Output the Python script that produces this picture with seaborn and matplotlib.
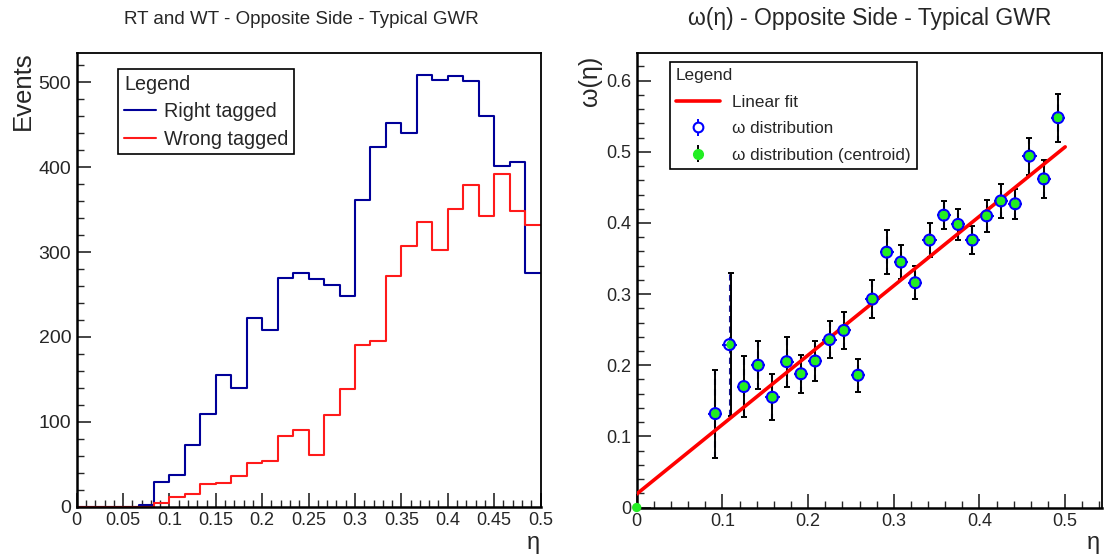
import numpy as np
import matplotlib
matplotlib.use("Agg")
import matplotlib.pyplot as plt
from matplotlib.ticker import MultipleLocator
import seaborn as sns

# ---------------- data ----------------
n_bins = 30
eta_edges = [k / 60 for k in range(n_bins + 1)]
eta_centers = [(k + 0.5) / 60 for k in range(n_bins)]

right_tagged = [0, 0, 0, 0, 1.5, 29, 37, 73, 109, 155, 140, 222, 208, 270, 275,
                268, 261, 248, 361, 424, 452, 440, 509, 503, 507, 502, 460, 401, 406, 275]
wrong_tagged = [0, 0, 0, 0, 0, 4, 11, 14.5, 27, 28, 36, 51, 54, 83, 90.7,
                61, 108, 138.5, 190, 195, 271.6, 307, 336, 303, 351, 379, 343, 392, 349, 332]

omega_eta = [0.0917, 0.1083, 0.1250, 0.1417, 0.1583, 0.1750, 0.1917, 0.2083, 0.2250,
             0.2417, 0.2583, 0.2750, 0.2917, 0.3083, 0.3250, 0.3417, 0.3583, 0.3750,
             0.3917, 0.4083, 0.4250, 0.4417, 0.4583, 0.4750, 0.4917]
omega_val = [0.132, 0.229, 0.170, 0.200, 0.155, 0.205, 0.188, 0.206, 0.236,
             0.249, 0.186, 0.293, 0.359, 0.345, 0.316, 0.376, 0.411, 0.398,
             0.376, 0.410, 0.431, 0.427, 0.494, 0.462, 0.548]
omega_err = [0.062, 0.100, 0.043, 0.034, 0.032, 0.035, 0.027, 0.028, 0.026,
             0.026, 0.023, 0.027, 0.031, 0.024, 0.023, 0.024, 0.020, 0.022,
             0.020, 0.022, 0.024, 0.021, 0.026, 0.027, 0.034]
eta_half_width = 1 / 120

centroid_eta = [0.0, 0.0917, 0.1100, 0.1250, 0.1417, 0.1583, 0.1750, 0.1917, 0.2083, 0.2250,
                0.2417, 0.2583, 0.2750, 0.2917, 0.3083, 0.3250, 0.3417, 0.3583, 0.3750,
                0.3917, 0.4083, 0.4250, 0.4417, 0.4583, 0.4750, 0.4917]
centroid_val = [0.0] + omega_val
centroid_err = [0.0] + omega_err

fit_eta = [0.0, 0.5]
fit_omega = [0.019, 0.507]

# ---------------- style ----------------
sns.set_style("ticks")
plt.rcParams["font.family"] = ["Liberation Sans", "DejaVu Sans"]
plt.rcParams["axes.linewidth"] = 1.3

W, H = 1107, 557
fig = plt.figure(figsize=(W / 100, H / 100), dpi=100)

def px_axes(x0, y0, x1, y1):
    return fig.add_axes([x0 / W, 1 - y1 / H, (x1 - x0) / W, (y1 - y0) / H])

ax1 = px_axes(76.7, 52.7, 540.5, 506.7)
ax2 = px_axes(636.7, 52.7, 1101.7, 507.5)

for ax in (ax1, ax2):
    ax.tick_params(which="major", direction="in", length=10, width=1.2,
                   labelsize=13, top=False, right=False, pad=4)
    ax.tick_params(which="minor", direction="in", length=5, width=1.0,
                   top=False, right=False)
    for s in ax.spines.values():
        s.set_color("black")
        s.set_linewidth(1.3)
    ax.spines["left"].set_linewidth(1.8)
    ax.spines["bottom"].set_linewidth(1.8)

# ---------------- left: histograms ----------------
blue_h = "#000099"
red_h = "#ff1a1a"
sns.histplot(x=eta_centers, weights=right_tagged, bins=eta_edges, element="step",
             fill=False, color=blue_h, linewidth=1.5, ax=ax1)
sns.histplot(x=eta_centers, weights=wrong_tagged, bins=eta_edges, element="step",
             fill=False, color=red_h, linewidth=1.5, ax=ax1)
ax1.set_xlim(0, 0.5)
ax1.set_ylim(0, 535)
ax1.set_xlabel("")
ax1.set_ylabel("")
ax1.xaxis.set_minor_locator(MultipleLocator(0.01))
ax1.yaxis.set_major_locator(MultipleLocator(100))
ax1.yaxis.set_minor_locator(MultipleLocator(20))
ax1.set_xticks([round(0.05 * i, 2) for i in range(11)])
ax1.set_xticklabels(["0", "0.05", "0.1", "0.15", "0.2", "0.25", "0.3", "0.35",
                     "0.4", "0.45", "0.5"])
ax1.tick_params(axis="y", labelsize=14)

h_rt = plt.Line2D([], [], color=blue_h, lw=1.5)
h_wt = plt.Line2D([], [], color=red_h, lw=1.5)
leg1 = ax1.legend([h_rt, h_wt], ["Right tagged", "Wrong tagged"], title="Legend",
                  loc="upper left", bbox_to_anchor=(0.0898, 0.964), borderaxespad=0,
                  fontsize=14.2, title_fontsize=14.2, alignment="left",
                  fancybox=False, frameon=True, edgecolor="black", framealpha=1,
                  handlelength=1.6, handletextpad=0.4, labelspacing=0.42,
                  borderpad=0.3)
leg1.get_frame().set_linewidth(1.2)

# ---------------- right: omega(eta) ----------------
eb = ax2.errorbar(omega_eta, omega_val, yerr=omega_err, fmt="none", ecolor="#1a1a99",
                  elinewidth=1.5, zorder=3)
eb[2][0].set_linestyle((0, (3, 2)))
ax2.errorbar(omega_eta, omega_val, xerr=eta_half_width, fmt="none", ecolor="#1010e0",
             elinewidth=1.5, zorder=3)
ax2.errorbar(centroid_eta[1:], centroid_val[1:], yerr=centroid_err[1:], fmt="none",
             ecolor="black", elinewidth=1.4, capsize=2, capthick=1.4, zorder=4)
sns.lineplot(x=fit_eta, y=fit_omega, color="#ff0000", linewidth=2.6, ax=ax2,
             zorder=5, legend=False)
sns.scatterplot(x=centroid_eta, y=centroid_val, color="#22ee22", s=45,
                edgecolor="none", ax=ax2, zorder=6, clip_on=False, legend=False)
sns.scatterplot(x=omega_eta, y=omega_val, facecolor="none", edgecolor="#0000ff",
                s=62, linewidth=1.5, ax=ax2, zorder=7, legend=False)
ax2.set_xlim(0, 0.5426)
ax2.set_ylim(0, 0.6394)
ax2.set_xlabel("")
ax2.set_ylabel("")
ax2.xaxis.set_minor_locator(MultipleLocator(0.02))
ax2.yaxis.set_minor_locator(MultipleLocator(0.02))
ax2.set_xticks([0, 0.1, 0.2, 0.3, 0.4, 0.5])
ax2.set_xticklabels(["0", "0.1", "0.2", "0.3", "0.4", "0.5"])
ax2.set_yticks([0, 0.1, 0.2, 0.3, 0.4, 0.5, 0.6])
ax2.set_yticklabels(["0", "0.1", "0.2", "0.3", "0.4", "0.5", "0.6"])

h_fit = plt.Line2D([], [], color="#ff0000", lw=2.6)
h_om = ax2.errorbar([np.nan], [np.nan], yerr=[np.nan], fmt="o", mfc="white",
                    mec="#0000ff", mew=1.5, ms=7, ecolor="#0000ff", elinewidth=1.4)
h_ce = ax2.errorbar([np.nan], [np.nan], yerr=[np.nan], fmt="o", mfc="#22ee22",
                    mec="#22ee22", ms=7, ecolor="black", elinewidth=1.4)
leg2 = ax2.legend([h_fit, h_om, h_ce],
                  ["Linear fit", "\u03c9 distribution", "\u03c9 distribution (centroid)"],
                  title="Legend", loc="upper left", bbox_to_anchor=(0.0716, 0.9796),
                  borderaxespad=0, fontsize=12.3, title_fontsize=12.3,
                  alignment="left", fancybox=False, frameon=True, edgecolor="black",
                  framealpha=1, handlelength=2.6, handletextpad=0.7,
                  labelspacing=0.68, borderpad=0.35)
leg2.get_frame().set_linewidth(1.2)

# ---------------- texts ----------------
fig.text(301 / W, 1 - 19 / H, "RT and WT - Opposite Side - Typical GWR",
         ha="center", va="center", fontsize=13.5)
fig.text(870 / W, 1 - 19 / H, "\u03c9(\u03b7) - Opposite Side - Typical GWR",
         ha="center", va="center", fontsize=16.5)
fig.text(22.7 / W, 1 - 91 / H, "Events", rotation=90, ha="center", va="center",
         fontsize=18.5)
fig.text(590 / W, 1 - 80.5 / H, "\u03c9(\u03b7)", rotation=90, ha="center",
         va="center", fontsize=18)
fig.text(533 / W, 1 - 543 / H, "\u03b7", ha="center", va="center", fontsize=17)
fig.text(1093 / W, 1 - 543 / H, "\u03b7", ha="center", va="center", fontsize=17)

fig.savefig("out.png", dpi=100, facecolor="white")
